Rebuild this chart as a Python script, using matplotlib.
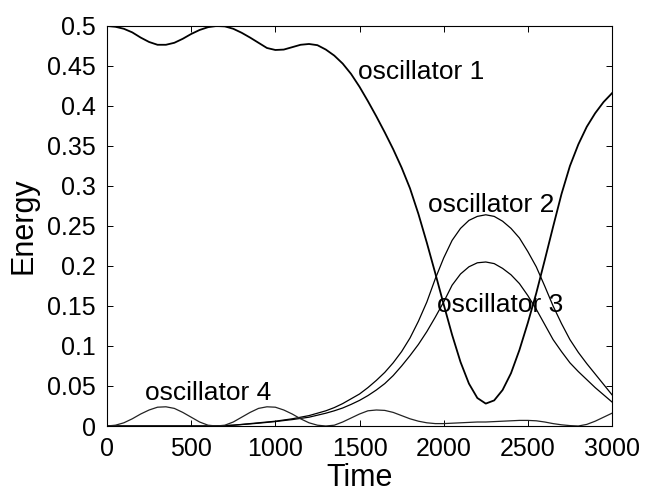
import matplotlib
matplotlib.use("Agg")
import matplotlib.pyplot as plt
import numpy as np

plt.rcParams['font.family'] = ['Liberation Sans', 'DejaVu Sans']

time = np.arange(0, 3001, 50)

osc1 = [0.500, 0.499, 0.4965, 0.492, 0.4855, 0.480, 0.4765, 0.4765, 0.479, 0.484,
        0.490, 0.495, 0.4985, 0.500, 0.4995, 0.4965, 0.4915, 0.4855, 0.479, 0.4725,
        0.470, 0.4705, 0.4735, 0.4765, 0.4775, 0.476, 0.4705, 0.463, 0.453, 0.440,
        0.424, 0.406, 0.387, 0.367, 0.346, 0.323, 0.297, 0.265, 0.229, 0.191,
        0.152, 0.114, 0.080, 0.053, 0.035, 0.028, 0.032, 0.045, 0.066, 0.095,
        0.129, 0.166, 0.207, 0.249, 0.290, 0.325, 0.352, 0.374, 0.391, 0.405,
        0.416]

osc2 = [0.0, 0.0, 0.0, 0.0, 0.0, 0.0, 0.0, 0.0, 0.0, 0.0,
        0.0, 0.0, 0.0, 0.0, 0.0005, 0.001, 0.002, 0.003, 0.004, 0.005,
        0.006, 0.0075, 0.009, 0.011, 0.013, 0.016, 0.019, 0.023, 0.028, 0.034,
        0.040, 0.048, 0.057, 0.067, 0.079, 0.093, 0.110, 0.131, 0.155, 0.184,
        0.210, 0.232, 0.247, 0.257, 0.262, 0.264, 0.262, 0.256, 0.247, 0.235,
        0.218, 0.199, 0.175, 0.150, 0.128, 0.108, 0.092, 0.078, 0.065, 0.052,
        0.039]

osc3 = [0.0, 0.0, 0.0, 0.0, 0.0, 0.0, 0.0, 0.0, 0.0, 0.0,
        0.0, 0.0, 0.0, 0.0, 0.0004, 0.001, 0.0018, 0.0026, 0.0035, 0.0045,
        0.0055, 0.0068, 0.008, 0.0095, 0.011, 0.0135, 0.016, 0.019, 0.0225, 0.027,
        0.032, 0.038, 0.045, 0.053, 0.063, 0.075, 0.088, 0.102, 0.118, 0.136,
        0.155, 0.176, 0.190, 0.199, 0.204, 0.205, 0.203, 0.197, 0.189, 0.178,
        0.163, 0.146, 0.127, 0.108, 0.093, 0.079, 0.068, 0.058, 0.048, 0.039,
        0.030]

osc4 = [0.0, 0.001, 0.004, 0.009, 0.015, 0.020, 0.0235, 0.024, 0.022, 0.017,
        0.011, 0.005, 0.001, 0.0, 0.001, 0.005, 0.011, 0.017, 0.022, 0.024,
        0.0235, 0.020, 0.015, 0.009, 0.004, 0.001, 0.0, 0.001, 0.005, 0.010,
        0.015, 0.019, 0.020, 0.0195, 0.017, 0.013, 0.009, 0.006, 0.004, 0.003,
        0.003, 0.0035, 0.004, 0.0045, 0.005, 0.005, 0.0055, 0.006, 0.0065, 0.007,
        0.007, 0.0065, 0.005, 0.003, 0.0015, 0.0005, 0.0, 0.002, 0.006, 0.011,
        0.016]

labels = ['oscillator 1', 'oscillator 2', 'oscillator 3', 'oscillator 4']
label_x = [1491, 1907, 1960, 226]
label_y = [0.4425, 0.276, 0.151, 0.041]

fig = plt.figure(figsize=(6.49, 4.93), dpi=100)
ax = fig.add_axes([0.1649, 0.1359, 0.7781, 0.8114])

ax.plot(time, osc1, color='black', lw=1.3)
ax.plot(time, osc2, color='black', lw=0.9)
ax.plot(time, osc3, color='black', lw=0.9)
ax.plot(time, osc4, color='#222222', lw=0.9)

for txt, tx, ty in zip(labels, label_x, label_y):
    ax.text(tx, ty, txt, fontsize=19, va='center', ha='left')

ax.set_xlim(0, 3000)
ax.set_ylim(0, 0.5)
ax.set_xticks([0, 500, 1000, 1500, 2000, 2500, 3000])
ax.set_yticks([0, 0.05, 0.1, 0.15, 0.2, 0.25, 0.3, 0.35, 0.4, 0.45, 0.5])
ax.set_yticklabels(['0', '0.05', '0.1', '0.15', '0.2', '0.25', '0.3', '0.35', '0.4', '0.45', '0.5'])
ax.tick_params(direction='in', top=True, right=True, length=4, width=0.7,
               labelsize=18, pad=8)
for s in ax.spines.values():
    s.set_linewidth(0.8)

ax.set_xlabel('Time', fontsize=22, labelpad=1)
ax.set_ylabel('Energy', fontsize=22, labelpad=6)

fig.savefig('out.png', dpi=100)
